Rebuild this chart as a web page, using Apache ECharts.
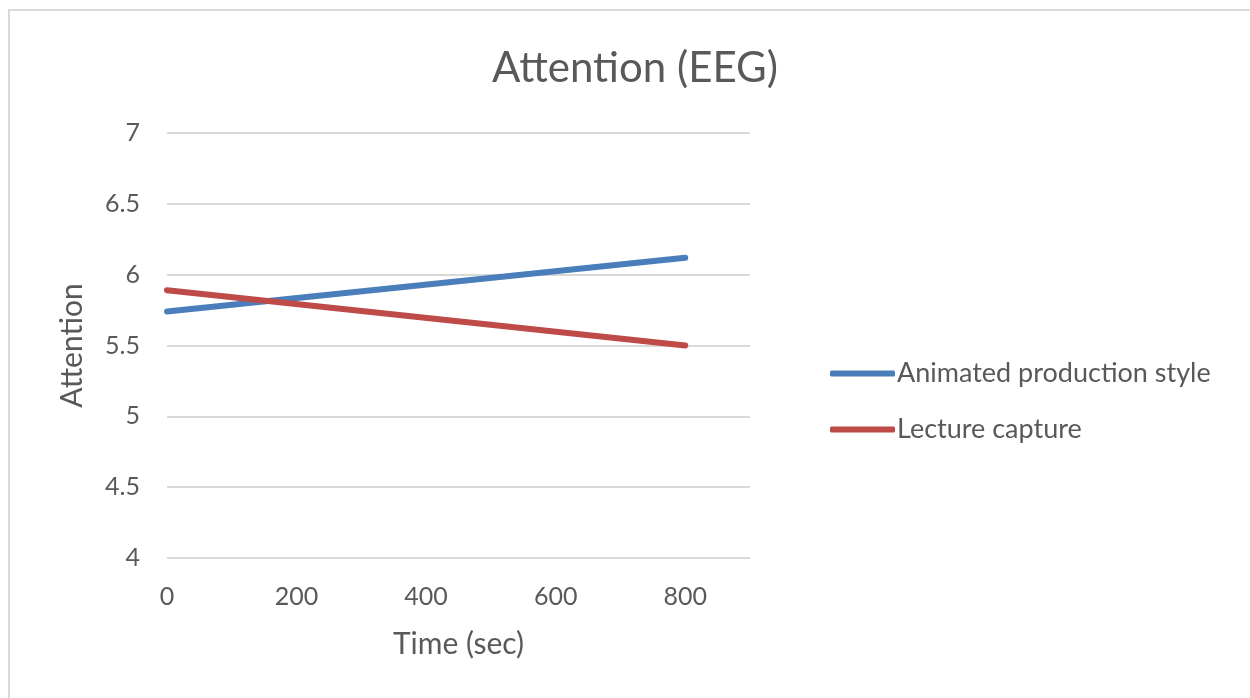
<!DOCTYPE html>
<html>
<head>
<meta charset="utf-8">
<script src="https://cdn.jsdelivr.net/npm/echarts@6/dist/echarts.min.js"></script>
<style>
html,body{margin:0;padding:0;background:#fff;}
#c{width:1250px;height:698px;}
</style>
</head>
<body>
<div id="c"></div>
<script>
var times = [0, 800];
var animated = [5.74, 6.12];
var lecture = [5.89, 5.50];
var seriesNames = ['Animated production style', 'Lecture capture'];

var font = 'Lato, "Open Sans", sans-serif';
var chart = echarts.init(document.getElementById('c'));
chart.setOption({
  animation: false,
  backgroundColor: '#fff',
  graphic: [{
    type: 'rect',
    shape: {x: 9, y: 10, width: 1260, height: 720},
    style: {fill: 'none', stroke: '#d9d9d9', lineWidth: 2},
    silent: true
  }],
  title: {
    text: 'Attention (EEG)',
    left: 630, top: 42, textAlign: 'center',
    textStyle: {color: '#595959', fontSize: 42, fontWeight: 'normal', fontFamily: font}
  },
  legend: {
    orient: 'vertical',
    left: 825, top: 355,
    itemWidth: 65, itemHeight: 6, itemGap: 29,
    icon: 'roundRect',
    textStyle: {color: '#595959', fontSize: 27, fontFamily: font, padding: [0,0,0,-3]},
    data: seriesNames
  },
  grid: {left: 167, right: 500, top: 133, bottom: 140},
  xAxis: {
    type: 'value', min: 0, max: 900, interval: 200,
    name: 'Time (sec)', nameLocation: 'middle', nameGap: 71,
    nameTextStyle: {color: '#595959', fontSize: 30, fontFamily: font},
    axisLine: {show: false}, axisTick: {show: false},
    splitLine: {show: false},
    axisLabel: {color: '#595959', fontSize: 25, fontFamily: font, margin: 26,
      formatter: function(v){ return v % 200 === 0 ? v : ''; }}
  },
  yAxis: {
    type: 'value', min: 4, max: 7, interval: 0.5,
    name: 'Attention', nameLocation: 'middle', nameGap: 80,
    nameTextStyle: {color: '#595959', fontSize: 30, fontFamily: font},
    axisLine: {show: false}, axisTick: {show: false},
    splitLine: {lineStyle: {color: '#d9d9d9', width: 2}},
    axisLabel: {color: '#595959', fontSize: 25, fontFamily: font, margin: 27}
  },
  series: [{
    name: seriesNames[0], type: 'line', showSymbol: false, symbol: 'none',
    data: times.map(function(t,i){return [t, animated[i]];}),
    lineStyle: {color: '#4a7ebb', width: 6, cap: 'round'},
    itemStyle: {color: '#4a7ebb'}
  },{
    name: seriesNames[1], type: 'line', showSymbol: false, symbol: 'none',
    data: times.map(function(t,i){return [t, lecture[i]];}),
    lineStyle: {color: '#be4b48', width: 6, cap: 'round'},
    itemStyle: {color: '#be4b48'}
  }]
});
</script>
</body>
</html>
